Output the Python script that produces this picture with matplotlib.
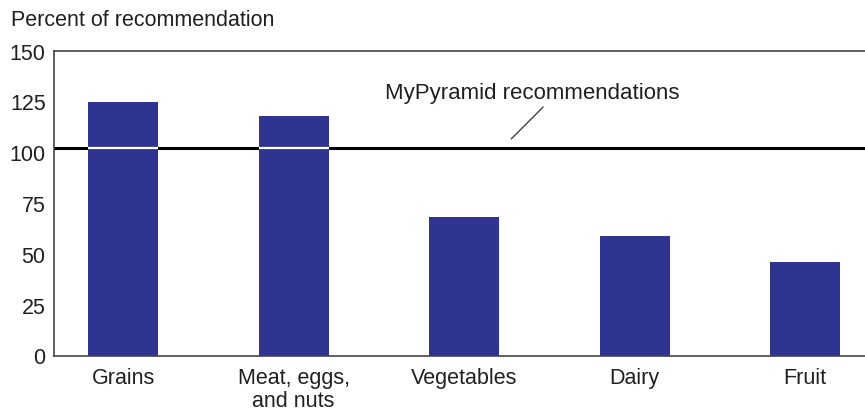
import matplotlib
matplotlib.use("Agg")
import matplotlib.pyplot as plt

categories = ["Grains", "Meat, eggs,\nand nuts", "Vegetables", "Dairy", "Fruit"]
values = [125, 118, 68, 59, 46]
reference_level = 102
yticks = [0, 25, 50, 75, 100, 125, 150]
ylabel_text = "Percent of recommendation"
annot_text = "MyPyramid recommendations"

plt.rcParams["font.family"] = ["Liberation Sans", "DejaVu Sans"]

txt_color = "#231f20"
bar_color = "#2e3490"
fs = 15.5

fig = plt.figure(figsize=(8.65, 4.14), dpi=100)
ax = fig.add_axes([54/865, 1-356.5/414, 1-54/865, (356.5-51.7)/414])

x = list(range(len(categories)))
ax.axhline(reference_level, color="black", lw=2.2, zorder=1)
bars = ax.bar(x, values, width=0.41, color=bar_color, zorder=2)
for b in bars:
    if b.get_height() > reference_level:
        ax.hlines(reference_level, b.get_x(), b.get_x() + b.get_width(),
                  color="white", lw=1.6, zorder=3)

ax.set_xlim(-0.405, 4.35)
ax.set_ylim(0, 150)
ax.set_yticks(yticks)
ax.set_yticklabels([str(t) for t in yticks])
ax.set_xticks(x)
ax.set_xticklabels(categories, linespacing=1.15)
ax.tick_params(axis="both", length=0, labelsize=fs, colors=txt_color, pad=6)
ax.tick_params(axis="x", pad=8)
ax.spines["right"].set_visible(False)
for s in ["left", "top", "bottom"]:
    ax.spines[s].set_color("#444444")
    ax.spines[s].set_linewidth(1.2)

fig.text(11/865, 1-20/414, ylabel_text, fontsize=fs, color=txt_color, va="center", ha="left")

ax.text(2.4, 129.5, annot_text, fontsize=16, color=txt_color, ha="center", va="center")
ax.annotate("", xy=(2.276, 106.6), xytext=(2.463, 122.3),
            arrowprops=dict(arrowstyle="-", color="#444444", lw=1.0,
                            shrinkA=0, shrinkB=0))

fig.savefig("out.png", dpi=100)
